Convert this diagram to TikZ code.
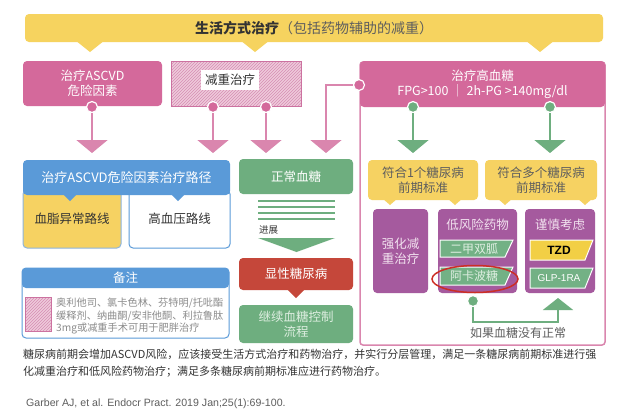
\documentclass[tikz,border=0pt]{standalone}
\usepackage{fontspec}
\setmainfont{Noto Sans CJK SC}
\newfontfamily\latinfont{Liberation Sans}
\usetikzlibrary{positioning, arrows.meta, patterns, shapes.geometric}

\definecolor{bannery}{HTML}{F6D35F}
\definecolor{pinkmain}{HTML}{D4699B}
\definecolor{pinkline}{HTML}{DA86AE}
\definecolor{hatchfill}{HTML}{EFCADB}
\definecolor{hatchline}{HTML}{CC72A0}
\definecolor{bluemain}{HTML}{5A9AD8}
\definecolor{blueedge}{HTML}{8DB5DF}
\definecolor{yellowbox}{HTML}{F6D262}
\definecolor{greenmain}{HTML}{6EAE7F}
\definecolor{greentext}{HTML}{DDEEE0}
\definecolor{redmain}{HTML}{C5473A}
\definecolor{purplemain}{HTML}{A55A9E}
\definecolor{purpletext}{HTML}{F2E2EF}
\definecolor{tagreen}{HTML}{73B185}
\definecolor{tzdyellow}{HTML}{F2CF45}
\definecolor{ringred}{HTML}{CC2E25}
\definecolor{ink}{HTML}{333333}
\definecolor{inkgray}{HTML}{5E5E5E}
\definecolor{notegray}{HTML}{8C8C8C}

\begin{document}
\begin{tikzpicture}[x=1pt, y=-1pt,
    box/.style={rectangle, rounded corners=4pt, inner sep=0pt, align=center, font=\fontsize{12.5}{15}\selectfont},
    pinkbox/.style={box, fill=pinkmain, text=white},
    bluebox/.style={box, fill=bluemain, text=white},
    greenbox/.style={box, fill=greenmain, text=greentext},
    yelbox/.style={box, fill=yellowbox, text=inkgray},
    purplebox/.style={box, fill=purplemain, text=purpletext},
    hatchbox/.style={rectangle, draw=hatchline, line width=1.5pt, preaction={fill=hatchfill}, pattern=north east lines, pattern color=hatchline!80},
    pinkdot/.style={circle, fill=pinkmain, draw=white, line width=1.2pt, minimum size=11pt, inner sep=0pt},
    greendot/.style={circle, fill=greenmain, draw=white, line width=1.2pt, minimum size=11pt, inner sep=0pt},
    pinkline/.style={draw=pinkline, line width=2pt, -{Triangle[width=31pt, length=13pt]}},
    greenline/.style={draw=greenmain, line width=2pt, -{Triangle[width=31pt, length=13pt]}},
    tagtext/.style={inner sep=0pt, font=\fontsize{12}{14}\selectfont, text=greentext},
    stripe/.style={draw=greenmain, line width=2pt}]

    \fill [white] (0,0) rectangle (629,413);
    \useasboundingbox (0,0) rectangle (629,413);

    % lifestyle banner
    \foreach \px in {90, 255, 540}
        \fill [bannery] (\px-15,40) -- (\px,52) -- (\px+15,40) -- cycle;
    \node (banner) [box, fill=bannery, minimum width=578pt, minimum height=28pt, font=\fontsize{14}{16}\selectfont] at (314,28)
        {\textcolor{ink}{\textbf{生活方式治疗}}\textcolor{inkgray}{（包括药物辅助的减重）}};

    % first row
    \node (ascvd) [pinkbox, minimum width=139pt, minimum height=45pt] at (92.5,83.5) {治疗ASCVD\\危险因素};
    \node (weight) [hatchbox, minimum width=130pt, minimum height=45pt] at (236.5,84) {};
    \node (weightlbl) [fill=white, inner xsep=4pt, minimum height=20pt, text=ink, font=\fontsize{12.5}{15}\selectfont] at (230,80) {减重治疗};

    \draw [pinkline, line width=1.5pt, -, rounded corners=3pt] (360,62) rectangle (605,345);
    \node (hyper) [pinkbox, minimum width=245pt, minimum height=46pt] at (482.5,84)
        {治疗高血糖\\FPG>100 │ 2h-PG >140mg/dl};

    \node (dota) [pinkdot] at (92,107) {};
    \node (dotb) [pinkdot] at (213,107) {};
    \node (dotc) [pinkdot] at (266,107) {};
    \node (dotd) [pinkdot] at (359,85) {};
    \node (dote) [greendot] at (413,107) {};
    \node (dotf) [greendot] at (550,107) {};

    \coordinate (tipa) at (92,153);
    \coordinate (tipb) at (213,153);
    \coordinate (tipc) at (266,153);
    \coordinate (bend) at (326,85);
    \coordinate (tipd) at (326,153);
    \coordinate (tipe) at (413,153);
    \coordinate (tipf) at (550,153);

    \draw [pinkline] (dota) -- (tipa);
    \draw [pinkline] (dotb) -- (tipb);
    \draw [pinkline] (dotc) -- (tipc);
    \draw [pinkline] (dotd) -- (bend) -- (tipd);
    \draw [greenline] (dote) -- (tipe);
    \draw [greenline] (dotf) -- (tipf);

    % ASCVD pathway
    \node (lipid) [box, fill=yellowbox, draw=blueedge, line width=1pt, text=ink, minimum width=98pt, minimum height=58pt] at (72,219) {血脂异常路线};
    \node (bp) [box, fill=white, draw=bluemain, line width=1pt, text=ink, minimum width=101pt, minimum height=58pt] at (179.5,219) {高血压路线};
    \foreach \px in {70, 178}
        \fill [bluemain] (\px-7,194) -- (\px,201) -- (\px+7,194) -- cycle;
    \node (path) [bluebox, minimum width=207pt, minimum height=35pt, font=\fontsize{13}{15}\selectfont] at (126.5,177.5) {治疗ASCVD危险因素治疗路径};

    % note
    \node (note) [box, draw=bluemain, line width=1pt, minimum width=207pt, minimum height=70pt] at (125.5,303) {};
    \node (notehead) [bluebox, minimum width=207pt, minimum height=20pt] at (125.5,278) {备注};
    \node (notehatch) [hatchbox, line width=1.2pt, minimum width=26pt, minimum height=34pt] at (38.5,314.5) {};
    \node (notetext) [anchor=west, align=left, inner sep=0pt, text=notegray, font=\fontsize{10.2}{12.5}\selectfont] at (56,316)
        {奥利他司、氯卡色林、芬特明/托吡酯\\缓释剂、纳曲酮/安非他酮、利拉鲁肽\\3mg或减重手术可用于肥胖治疗};

    % glucose course
    \node (normal) [greenbox, minimum width=114pt, minimum height=35pt, text=white] at (296,176.5) {正常血糖};
    \foreach \sy in {201, 207, 213, 219}
        \draw [stripe] (258,\sy) -- (335,\sy);
    \node (progress) [anchor=west, inner sep=0pt, text=ink, font=\fontsize{9.5}{11}\selectfont] at (259,230) {进展};
    \fill [greenmain] (258,238) -- (335,238) -- (296.5,252) -- cycle;
    \fill [redmain] (287,289) -- (305,289) -- (296,298) -- cycle;
    \node (overt) [box, fill=redmain, text=white, minimum width=114pt, minimum height=32pt] at (296,274) {显性糖尿病};
    \node (keep) [greenbox, minimum width=114pt, minimum height=38pt] at (296,324) {继续血糖控制\\流程};

    % criteria
    \foreach \px in {390, 455, 505, 585}
        \fill [yellowbox] (\px-8,198) -- (\px,205) -- (\px+8,198) -- cycle;
    \node (onecrit) [yelbox, minimum width=110pt, minimum height=40pt] at (423,180) {符合1个糖尿病\\前期标准};
    \node (multicrit) [yelbox, minimum width=112pt, minimum height=40pt] at (541,180) {符合多个糖尿病\\前期标准};

    \node (intense) [purplebox, minimum width=55pt, minimum height=84pt] at (400.5,251) {强化减\\重治疗};
    \node (lowrisk) [purplebox, minimum width=79pt, minimum height=84pt] at (477.5,251) {};
    \node (lowtitle) [tagtext, text=purpletext, font=\fontsize{12.5}{15}\selectfont] at (477.5,225) {低风险药物};
    \node (caution) [purplebox, minimum width=70pt, minimum height=84pt] at (560,251) {};
    \node (cautitle) [tagtext, text=purpletext, font=\fontsize{12.5}{15}\selectfont] at (560,225) {谨慎考虑};

    \filldraw [fill=tagreen, draw=white, line width=1pt] (440,240) -- (513,240) -- (505,257) -- (440,257) -- cycle;
    \node (metformin) [tagtext] at (474,248.5) {二甲双胍};
    \filldraw [fill=tagreen, draw=white, line width=1pt] (440,267) -- (513,267) -- (505,285) -- (440,285) -- cycle;
    \node (acarbose) [tagtext] at (474,276) {阿卡波糖};
    \filldraw [fill=tzdyellow, draw=white, line width=1pt] (530,240) -- (593,240) -- (585,260) -- (530,260) -- cycle;
    \node (tzd) [tagtext, text=black, font=\latinfont\bfseries\fontsize{12}{14}\selectfont] at (559,250) {TZD};
    \filldraw [fill=tagreen, draw=white, line width=1pt] (530,268) -- (593,268) -- (585,288) -- (530,288) -- cycle;
    \node (glp) [tagtext, text=white, font=\latinfont\fontsize{10}{12}\selectfont] at (559,278) {GLP-1RA};

    \node (ring) [ellipse, draw=ringred, line width=1.5pt, minimum width=86pt, minimum height=27pt] at (475,279) {};

    % feedback
    \node (backdot) [greendot] at (473,301) {};
    \coordinate (backa) at (473,322);
    \coordinate (backb) at (558,322);
    \coordinate (backtip) at (558,298);
    \draw [greenline, -{Triangle[width=30pt, length=12pt]}] (backdot) -- (backa) -- (backb) -- (backtip);
    \node (ifnot) [text=inkgray, font=\fontsize{12}{14}\selectfont] at (518,333) {如果血糖没有正常};

    % footer
    \node (summary) [anchor=north west, align=left, inner sep=0pt, text=ink, font=\fontsize{11}{17}\selectfont] at (23,349)
        {糖尿病前期会增加ASCVD风险，应该接受生活方式治疗和药物治疗，并实行分层管理，满足一条糖尿病前期标准进行强\\化减重治疗和低风险药物治疗；满足多条糖尿病前期标准应进行药物治疗。};
    \node (cite) [anchor=west, inner sep=0pt, text=inkgray, font=\latinfont\fontsize{10.6}{12}\selectfont] at (26,404)
        {Garber AJ, et al. Endocr Pract. 2019 Jan;25(1):69-100.};
\end{tikzpicture}
\end{document}
